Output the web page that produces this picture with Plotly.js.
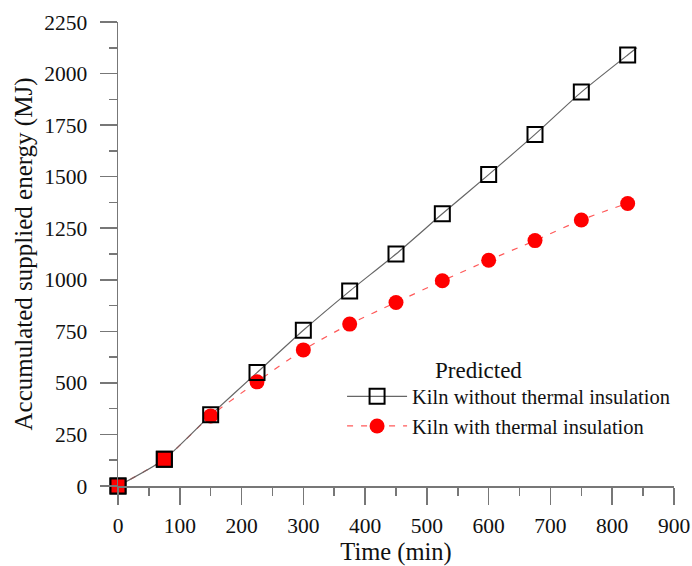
<!DOCTYPE html>
<html>
<head>
<meta charset="utf-8">
<script src="https://cdn.plot.ly/plotly-3.0.1.min.js"></script>
<style>html,body{margin:0;padding:0;background:#fff;}#chart{width:692px;height:566px;}</style>
</head>
<body>
<div id="chart"></div>
<script>
// Data
const timeMin = [0, 75, 150, 225, 300, 375, 450, 525, 600, 675, 750, 825];
const noInsulation = [0, 130, 345, 550, 755, 945, 1125, 1320, 1510, 1705, 1910, 2090];
const withInsulation = [0, 130, 340, 505, 660, 785, 890, 995, 1095, 1190, 1290, 1370];
// line continues slightly past the last marker
const lineEndTime = 840;
const lineEndNoIns = 2125;
const lineEndWithIns = 1377;
const xTicks = [0, 100, 200, 300, 400, 500, 600, 700, 800, 900];
const yTicks = [0, 250, 500, 750, 1000, 1250, 1500, 1750, 2000, 2250];
const seriesNames = ['Kiln without thermal insulation', 'Kiln with thermal insulation'];
const legendHeading = 'Predicted';

const font = 'Liberation Serif, Times New Roman, serif';

const traces = [
  {
    x: timeMin.concat([lineEndTime]), y: withInsulation.concat([lineEndWithIns]),
    mode: 'lines', line: {color: '#ff5a5a', width: 1.2, dash: '6px,8px', shape: 'spline', smoothing: 0.6},
    showlegend: false, hoverinfo: 'skip'
  },
  {
    x: timeMin.concat([lineEndTime]), y: noInsulation.concat([lineEndNoIns]),
    mode: 'lines', line: {color: '#666666', width: 1.2, shape: 'spline', smoothing: 0.6},
    showlegend: false, hoverinfo: 'skip'
  },
  {
    x: timeMin, y: withInsulation, name: seriesNames[1],
    mode: 'markers', marker: {symbol: 'circle', color: '#ff0000', size: 15, line: {width: 0}},
    showlegend: false, cliponaxis: false
  },
  {
    x: timeMin, y: noInsulation, name: seriesNames[0],
    mode: 'markers', marker: {symbol: 'square-open', color: '#000000', size: 15, line: {width: 2, color: '#000'}},
    showlegend: false, cliponaxis: false
  },
  {
    x: timeMin.slice(0, 2), y: withInsulation.slice(0, 2),
    mode: 'markers', marker: {symbol: 'square', color: '#ff0000', size: 15, line: {width: 2, color: '#000'}},
    showlegend: false, hoverinfo: 'skip', cliponaxis: false
  },
  // legend entries
  {
    x: [null], y: [null], name: seriesNames[0],
    mode: 'lines+markers', line: {color: '#666666', width: 1.2},
    marker: {symbol: 'square-open', color: '#000', size: 15, line: {width: 2}}
  },
  {
    x: [null], y: [null], name: seriesNames[1],
    mode: 'lines+markers', line: {color: '#ff5a5a', width: 1.2, dash: '6px,8px'},
    marker: {symbol: 'circle', color: '#ff0000', size: 15}
  }
];

const axisCommon = {
  showgrid: false, zeroline: false, showline: true, linecolor: '#777', linewidth: 1.5,
  ticks: 'outside', ticklen: 17, tickwidth: 1.5, tickcolor: '#777',
  tickfont: {family: font, size: 21.5, color: '#111'},
  ticklabelstandoff: 8
};

const layout = {
  width: 692, height: 566,
  margin: {l: 118, r: 18, t: 22, b: 80},
  paper_bgcolor: '#fff', plot_bgcolor: '#fff',
  font: {family: font, color: '#111'},
  xaxis: Object.assign({}, axisCommon, {
    range: [0, 900], tickvals: xTicks, ticktext: xTicks.map(String),
    minor: {dtick: 50, tick0: 0, ticks: 'outside', ticklen: 8, tickwidth: 1.5, tickcolor: '#777', showgrid: false},
    title: {text: 'Time (min)', font: {family: font, size: 24.5, color: '#111'}, standoff: 0},
    ticklabelstandoff: 3, automargin: false
  }),
  yaxis: Object.assign({}, axisCommon, {
    range: [0, 2250], tickvals: yTicks, ticktext: yTicks.map(String),
    minor: {dtick: 125, tick0: 0, ticks: 'outside', ticklen: 8, tickwidth: 1.5, tickcolor: '#777', showgrid: false},
    title: {text: 'Accumulated supplied energy (MJ)', font: {family: font, size: 25, color: '#111'}, standoff: 4},
    automargin: false
  }),
  legend: {
    x: 0.403, y: 0.236, xanchor: 'left', yanchor: 'top',
    bgcolor: 'rgba(255,255,255,0)',
    font: {family: font, size: 20.5, color: '#111'},
    itemwidth: 60, tracegroupgap: 0
  },
  annotations: [{
    text: legendHeading, xref: 'paper', yref: 'paper', x: 0.649, y: 0.25,
    xanchor: 'center', yanchor: 'middle', showarrow: false,
    font: {family: font, size: 23, color: '#111'}
  }],
  showlegend: true
};

Plotly.newPlot('chart', traces, layout, {displayModeBar: false, staticPlot: true});
</script>
</body>
</html>
